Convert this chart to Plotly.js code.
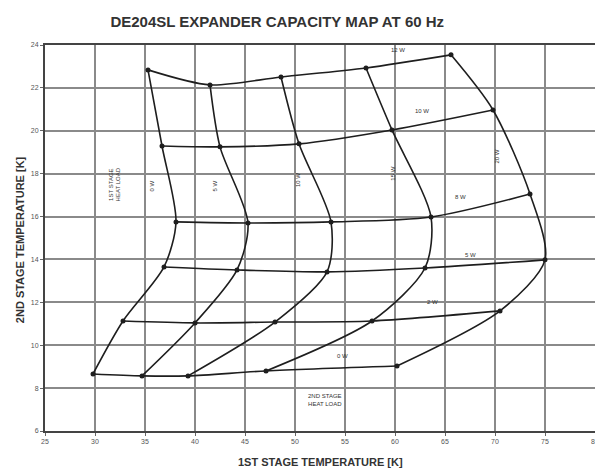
<!DOCTYPE html>
<html>
<head>
<meta charset="utf-8">
<script src="https://cdn.plot.ly/plotly-3.0.1.min.js"></script>
<style>html,body{margin:0;padding:0;background:#fff;}#chart{width:595px;height:470px;}</style>
</head>
<body>
<div id="chart"></div>
<script>
// 2nd stage heat load curves (rows, top to bottom) and 1st stage heat load curves (columns, left to right)
const secondStageLoads = ["12 W", "10 W", "8 W", "5 W", "2 W", "0 W"];
const firstStageLoads = ["0 W", "5 W", "10 W", "15 W", "20 W"];

// 1st stage temperature [K] at each grid node: rows = 2nd stage load, cols = 1st stage load
const t1 = [
  [35.3, 41.5, 48.6, 57.1, 65.6],
  [36.7, 42.5, 50.4, 59.7, 69.8],
  [38.1, 45.3, 53.6, 63.6, 73.5],
  [36.9, 44.2, 53.2, 63.0, 75.0],
  [32.8, 40.0, 48.0, 57.7, 70.5],
  [29.8, 34.7, 39.3, 47.1, 60.2]
];
// 2nd stage temperature [K] at each grid node
const t2 = [
  [22.84, 22.14, 22.51, 22.93, 23.54],
  [19.29, 19.25, 19.39, 20.04, 20.97],
  [15.75, 15.70, 15.75, 15.98, 17.05],
  [13.65, 13.51, 13.42, 13.60, 13.98],
  [11.13, 11.04, 11.08, 11.13, 11.60],
  [8.66, 8.57, 8.57, 8.80, 9.03]
];

// label positions
const rowLabelX = [60.3, 62.7, 66.5, 67.5, 63.7, 54.7];
const rowLabelY = [23.75, 20.9, 16.9, 14.2, 12.0, 9.5];
const colLabelX = [35.7, 42.0, 50.3, 59.8, 70.2];
const colLabelY = [17.4, 17.4, 17.7, 18.0, 18.8];

const xTicks = [25, 30, 35, 40, 45, 50, 55, 60, 65, 70, 75, 80];
const yTicks = [6, 8, 10, 12, 14, 16, 18, 20, 22, 24];

const lineColor = '#1e1e1e';
const traces = [];
// rows
for (let r = 0; r < t1.length; r++) {
  traces.push({
    x: t1[r], y: t2[r], mode: 'lines+markers', type: 'scatter',
    line: {color: lineColor, width: 1.6, shape: 'spline', smoothing: 0.8},
    marker: {color: lineColor, size: 5}, hoverinfo: 'skip', showlegend: false
  });
}
// columns
for (let c = 0; c < firstStageLoads.length; c++) {
  traces.push({
    x: t1.map(row => row[c]), y: t2.map(row => row[c]), mode: 'lines', type: 'scatter',
    line: {color: lineColor, width: 1.6, shape: 'spline', smoothing: 0.8},
    hoverinfo: 'skip', showlegend: false
  });
}

const smallFont = {family: 'Liberation Sans, Arial, sans-serif', size: 6, color: '#333'};
const annotations = [];
secondStageLoads.forEach((t, i) => annotations.push({
  x: rowLabelX[i], y: rowLabelY[i], xref: 'x', yref: 'y', text: t, showarrow: false, font: smallFont
}));
firstStageLoads.forEach((t, i) => annotations.push({
  x: colLabelX[i], y: colLabelY[i], xref: 'x', yref: 'y', text: t, showarrow: false, font: smallFont, textangle: -90
}));
annotations.push({x: 32, y: 17.5, xref: 'x', yref: 'y', text: '1ST STAGE<br>HEAT LOAD', showarrow: false, font: smallFont, textangle: -90});
annotations.push({x: 53, y: 7.45, xref: 'x', yref: 'y', text: '2ND STAGE<br>HEAT LOAD', showarrow: false, font: smallFont});
annotations.push({x: 0.5, y: -0.08, xref: 'paper', yref: 'paper', text: '<b>1ST STAGE TEMPERATURE [K]</b>', showarrow: false,
  font: {family: 'Liberation Sans, Arial, sans-serif', size: 11, color: '#333'}, yanchor: 'middle'});
annotations.push({x: -0.045, y: 0.495, xref: 'paper', yref: 'paper', text: '<b>2ND STAGE TEMPERATURE [K]</b>', showarrow: false,
  font: {family: 'Liberation Sans, Arial, sans-serif', size: 11, color: '#333'}, textangle: -90, xanchor: 'center'});

const layout = {
  width: 595, height: 470,
  margin: {l: 45, r: 0, t: 45, b: 39},
  paper_bgcolor: '#fff', plot_bgcolor: '#fff',
  title: {text: '<b>DE204SL EXPANDER CAPACITY MAP AT 60 Hz</b>', x: 0.466, xref: 'container', xanchor: 'center',
    y: 0.953, yanchor: 'middle', font: {family: 'Liberation Sans, Arial, sans-serif', size: 15, color: '#333'}},
  xaxis: {range: [25, 80], tickvals: xTicks, ticktext: xTicks.map(String), showgrid: true, gridcolor: '#8a8a8a', gridwidth: 2,
    zeroline: false, showline: true, linecolor: '#444', linewidth: 2, mirror: true, ticks: 'outside', ticklen: 3, tickcolor: '#666',
    tickfont: {family: 'Liberation Sans, Arial, sans-serif', size: 7, color: '#555'}, ticklabeloverflow: 'allow', fixedrange: true},
  yaxis: {range: [6, 24], tickvals: yTicks, ticktext: yTicks.map(String), showgrid: true, gridcolor: '#8a8a8a', gridwidth: 2,
    zeroline: false, showline: true, linecolor: '#444', linewidth: 2, mirror: true, ticks: 'outside', ticklen: 3, tickcolor: '#666',
    tickfont: {family: 'Liberation Sans, Arial, sans-serif', size: 7, color: '#555'}, fixedrange: true},
  annotations: annotations
};

Plotly.newPlot('chart', traces, layout, {staticPlot: true, displayModeBar: false});
</script>
</body>
</html>
